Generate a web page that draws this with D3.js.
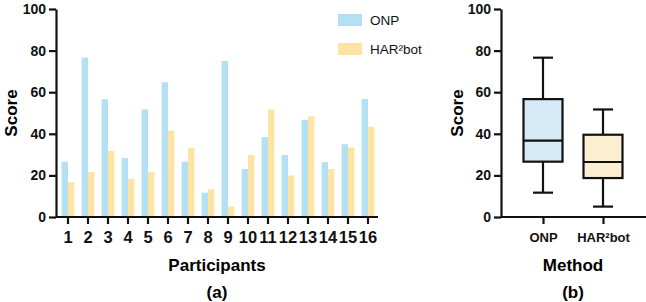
<!DOCTYPE html>
<html>
<head>
<meta charset="utf-8">
<script src="https://cdn.jsdelivr.net/npm/d3@7"></script>
<style>
  body { margin: 0; background: #fff; }
  svg { display: block; font-family: "Liberation Sans", Arial, Helvetica, sans-serif; }
</style>
</head>
<body>
<div id="chart"></div>
<script>
// Data
const participants = ['1','2','3','4','5','6','7','8','9','10','11','12','13','14','15','16'];
const onpScores = [26.6, 76.6, 56.6, 28.3, 51.7, 64.8, 26.6, 11.7, 75.0, 23.1, 38.4, 29.8, 46.7, 26.4, 35.0, 56.7];
const harScores = [16.7, 21.6, 31.7, 18.3, 21.6, 41.6, 33.3, 13.3, 5.0, 29.8, 51.7, 20.0, 48.4, 23.1, 33.4, 43.4];
const methods = ['ONP', 'HAR\u00B2bot'];
const yTicks = [0, 20, 40, 60, 80, 100];

const barColors = { ONP: '#b5e0f4', HAR: '#fde4a3' };
const boxColors = ['#d6ebf7', '#fdf0d2'];

const svg = d3.select('#chart').append('svg')
    .attr('width', 646)
    .attr('height', 302);

const yScale = d3.scaleLinear().domain([0, 100]).range([217, 9]);

// ---------- (a) grouped bars ----------
const axL = 56;
const xScale = d3.scaleBand()
    .domain(participants)
    .range([58, 378])
    .padding(0);

const bw = xScale.bandwidth();
const xSub = d3.scaleBand()
    .domain(['ONP', 'HAR'])
    .range([bw * 0.18, bw * 0.82]);

const rows = participants.map((p, i) => ({ p, ONP: onpScores[i], HAR: harScores[i] }));

const groups = svg.append('g').selectAll('g')
    .data(rows)
    .enter().append('g')
    .attr('transform', d => `translate(${xScale(d.p)},0)`);

groups.selectAll('rect')
    .data(d => ['ONP', 'HAR'].map(k => ({ k, v: d[k] })))
    .enter().append('rect')
    .attr('x', d => xSub(d.k))
    .attr('y', d => yScale(d.v))
    .attr('width', xSub.bandwidth())
    .attr('height', d => yScale(0) - yScale(d.v))
    .attr('fill', d => barColors[d.k]);

// y axis
const yAxisL = svg.append('g')
    .attr('transform', `translate(${axL},0)`)
    .call(d3.axisLeft(yScale).tickValues(yTicks).tickSize(7).tickSizeOuter(0));

// x axis
const xAxisL = svg.append('g')
    .attr('transform', `translate(0,${yScale(0)})`)
    .call(d3.axisBottom(xScale).tickSize(7).tickSizeOuter(0));
xAxisL.select('.domain').attr('d', `M${axL},0H378`);

// legend
const legend = svg.append('g');
[['ONP', 'ONP', 14], ['HAR', 'HAR\u00B2bot', 43]].forEach(([k, label, y]) => {
    legend.append('rect')
        .attr('x', 338).attr('y', y)
        .attr('width', 24).attr('height', 12)
        .attr('fill', barColors[k]);
    legend.append('text')
        .attr('x', 370).attr('y', y + 11)
        .style('font-size', '13.5px')
        .style('fill', '#111')
        .text(label);
});

svg.append('text')
    .attr('transform', `translate(17,${yScale(50)}) rotate(-90)`)
    .attr('text-anchor', 'middle')
    .style('font-size', '17px').style('font-weight', '700')
    .text('Score');

svg.append('text')
    .attr('x', 217).attr('y', 271)
    .attr('text-anchor', 'middle')
    .style('font-size', '17px').style('font-weight', '700')
    .text('Participants');

svg.append('text')
    .attr('x', 217).attr('y', 298)
    .attr('text-anchor', 'middle')
    .style('font-size', '17px').style('font-weight', '700')
    .text('(a)');

// ---------- (b) box plot ----------
const axR = 501;
const xBox = d3.scalePoint()
    .domain(methods)
    .range([axR, 645])
    .padding(0.7);

// hinges as GraphPad computes them: position (n+1)p
function quartile(sorted, p) {
    const pos = (sorted.length + 1) * p - 1;
    const lo = Math.floor(pos);
    const hi = Math.ceil(pos);
    return sorted[lo] + (sorted[hi] - sorted[lo]) * (pos - lo);
}

const boxStats = [onpScores, harScores].map((vals, i) => {
    const s = [...vals].sort((a, b) => a - b);
    return {
        name: methods[i],
        min: s[0],
        q1: quartile(s, 0.25),
        med: quartile(s, 0.5),
        q3: quartile(s, 0.75),
        max: s[s.length - 1],
        fill: boxColors[i]
    };
});

const boxW = 39;
const capW = 20;
const boxes = svg.append('g').selectAll('g')
    .data(boxStats)
    .enter().append('g')
    .attr('transform', d => `translate(${xBox(d.name)},0)`)
    .style('stroke', '#111')
    .style('stroke-width', 2.2);

boxes.append('line')
    .attr('x1', 0).attr('x2', 0)
    .attr('y1', d => yScale(d.min)).attr('y2', d => yScale(d.q1));
boxes.append('line')
    .attr('x1', 0).attr('x2', 0)
    .attr('y1', d => yScale(d.q3)).attr('y2', d => yScale(d.max));
boxes.append('line')
    .attr('x1', -capW / 2).attr('x2', capW / 2)
    .attr('y1', d => yScale(d.min)).attr('y2', d => yScale(d.min));
boxes.append('line')
    .attr('x1', -capW / 2).attr('x2', capW / 2)
    .attr('y1', d => yScale(d.max)).attr('y2', d => yScale(d.max));
boxes.append('rect')
    .attr('x', -boxW / 2)
    .attr('y', d => yScale(d.q3))
    .attr('width', boxW)
    .attr('height', d => yScale(d.q1) - yScale(d.q3))
    .attr('fill', d => d.fill);
boxes.append('line')
    .attr('x1', -boxW / 2).attr('x2', boxW / 2)
    .attr('y1', d => yScale(d.med)).attr('y2', d => yScale(d.med));

const yAxisR = svg.append('g')
    .attr('transform', `translate(${axR},0)`)
    .call(d3.axisLeft(yScale).tickValues(yTicks).tickSize(7).tickSizeOuter(0));

const xAxisR = svg.append('g')
    .attr('transform', `translate(0,${yScale(0)})`)
    .call(d3.axisBottom(xBox).tickSize(7).tickSizeOuter(0));
xAxisR.select('.domain').attr('d', `M${axR},0H646`);

svg.append('text')
    .attr('transform', `translate(463,${yScale(50)}) rotate(-90)`)
    .attr('text-anchor', 'middle')
    .style('font-size', '17px').style('font-weight', '700')
    .text('Score');

svg.append('text')
    .attr('x', 573).attr('y', 271)
    .attr('text-anchor', 'middle')
    .style('font-size', '17px').style('font-weight', '700')
    .text('Method');

svg.append('text')
    .attr('x', 573).attr('y', 298)
    .attr('text-anchor', 'middle')
    .style('font-size', '17px').style('font-weight', '700')
    .text('(b)');

// shared axis styling
[yAxisL, xAxisL, yAxisR, xAxisR].forEach(ax => {
    ax.selectAll('.domain, .tick line')
        .attr('stroke', '#111')
        .attr('stroke-width', 2.2);
    ax.selectAll('text')
        .attr('fill', '#111')
        .style('font-family', '"Liberation Sans", Arial, sans-serif')
        .style('font-weight', '700');
});
[yAxisL, yAxisR].forEach(ax => ax.selectAll('text').style('font-size', '14px').attr('x', -10));
xAxisL.selectAll('text').style('font-size', '16.5px').attr('y', 14);
xAxisR.selectAll('text').style('font-size', '13px').attr('y', 16);
</script>
</body>
</html>
